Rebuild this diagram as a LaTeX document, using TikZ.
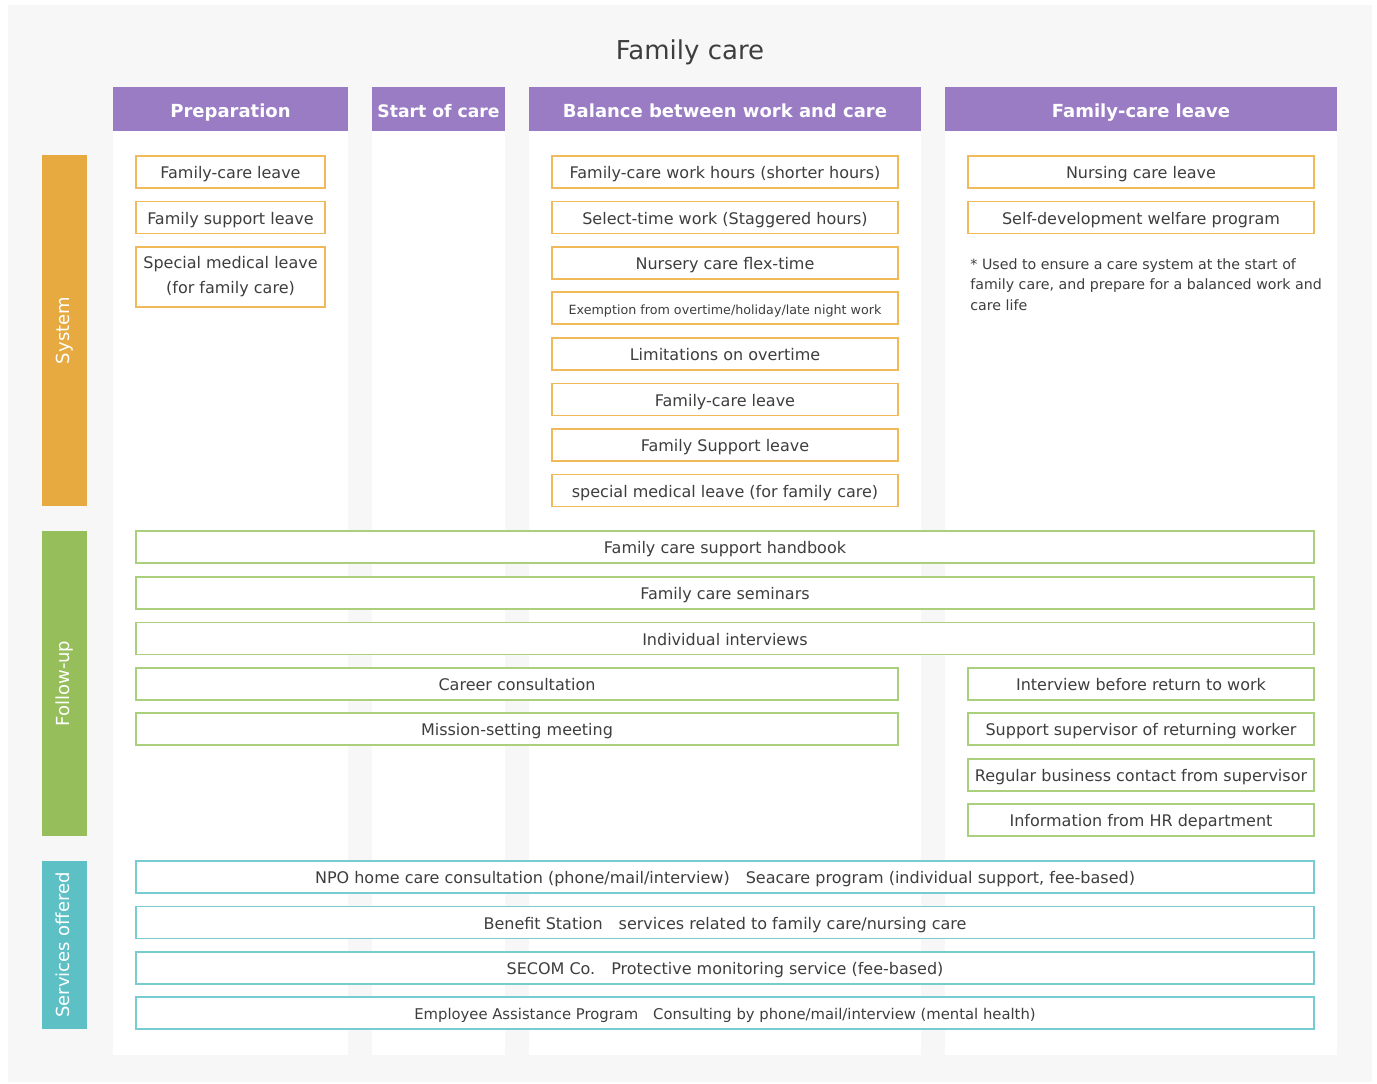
\documentclass[tikz,border=0pt]{standalone}
\usepackage{fontspec}
\setmainfont{DejaVu Sans}
\usetikzlibrary{positioning}
\definecolor{bg_gray}{RGB}{247,247,247}
\definecolor{head_purple}{RGB}{154,124,197}
\definecolor{sys_orange}{RGB}{231,170,64}
\definecolor{box_orange}{RGB}{240,185,90}
\definecolor{fol_green}{RGB}{150,191,91}
\definecolor{box_green}{RGB}{170,208,125}
\definecolor{srv_teal}{RGB}{92,192,196}
\definecolor{box_teal}{RGB}{118,204,208}
\definecolor{text_gray}{RGB}{62,62,62}

\begin{document}
\begin{tikzpicture}[x=0.5pt,y=-0.5pt]
    \tikzstyle{col}=[fill=white, inner sep=0pt, anchor=north, minimum height=484pt]
    \tikzstyle{head}=[fill=head_purple, text=white, inner sep=0pt, minimum height=22pt, text height=0.88em, text depth=0.02em, font=\bfseries\fontsize{9}{11}\selectfont]
    \tikzstyle{bar}=[rotate=90, text=white, inner sep=0pt, minimum height=22.5pt, text height=0.74em, text depth=0.2em, font=\fontsize{9}{11}\selectfont]
    \tikzstyle{box}=[draw, line width=0.6pt, fill=white, text=text_gray, inner sep=0pt, minimum height=16pt, text height=0.8em, text depth=0.14em, font=\fontsize{8}{12.5}\selectfont]
    \tikzstyle{sysbox}=[style=box, draw=box_orange]
    \tikzstyle{folbox}=[style=box, draw=box_green]
    \tikzstyle{srvbox}=[style=box, draw=box_teal]
    \tikzstyle{narrow}=[minimum width=94.5pt]
    \tikzstyle{half}=[minimum width=173pt]
    \tikzstyle{wide}=[minimum width=381pt]
    \tikzstyle{full}=[minimum width=589pt]

    \useasboundingbox (0,0) rectangle (1377,1083);
    \fill[white] (0,0) rectangle (1377,1083);
    \fill[bg_gray] (8,5) rectangle (1372,1082);

    \node[text=text_gray, font=\fontsize{13}{15}\selectfont] (title) at (690,52) {Family care};

    % columns
    \node[col, minimum width=117.5pt] (prepcol)  at (230.5,87) {};
    \node[col, minimum width=66.5pt]  (startcol) at (438.5,87) {};
    \node[col, minimum width=196pt]   (balcol)   at (725,87)   {};
    \node[col, minimum width=196pt]   (leavecol) at (1141,87)  {};
    \node[head, minimum width=117.5pt] (prep)  at (230.5,109) {Preparation};
    \node[head, minimum width=66.5pt, font=\bfseries\fontsize{8.6}{11}\selectfont] (start) at (438.5,109) {Start of care};
    \node[head, minimum width=196pt]   (bal)   at (725,109)   {Balance between work and care};
    \node[head, minimum width=196pt]   (leave) at (1141,109)  {Family-care leave};

    % rows
    \node[bar, fill=sys_orange, minimum width=175.5pt] (sys) at (64.5,330.5) {System};
    \node[bar, fill=fol_green,  minimum width=152.5pt] (fol) at (64.5,683.5) {Follow-up};
    \node[bar, fill=srv_teal,   minimum width=84pt]    (srv) at (64.5,945)   {Services offered};

    \node[sysbox, narrow] (p1) at (230.5,172)   {Family-care leave};
    \node[sysbox, narrow] (p2) at (230.5,217.5) {Family support leave};
    \node[sysbox, narrow, minimum height=30pt, align=center, text height=, text depth=] (p3) at (230.5,277) {Special medical leave\\(for family care)};

    \node[sysbox, half] (b1) at (725,172)   {Family-care work hours (shorter hours)};
    \node[sysbox, half] (b2) at (725,217.5) {Select-time work (Staggered hours)};
    \node[sysbox, half] (b3) at (725,263)   {Nursery care flex-time};
    \node[sysbox, half, font=\fontsize{6.35}{8}\selectfont] (b4) at (725,308) {Exemption from overtime/holiday/late night work};
    \node[sysbox, half] (b5) at (725,354)   {Limitations on overtime};
    \node[sysbox, half] (b6) at (725,399.5) {Family-care leave};
    \node[sysbox, half] (b7) at (725,445)   {Family Support leave};
    \node[sysbox, half] (b8) at (725,490.5) {special medical leave (for family care)};

    \node[sysbox, half] (l1) at (1141,172)   {Nursing care leave};
    \node[sysbox, half] (l2) at (1141,217.5) {Self-development welfare program};
    \node[anchor=north west, align=left, inner sep=0pt, text=text_gray, font=\fontsize{7.1}{10.25}\selectfont] (note) at (970,258)
      {* Used to ensure a care system at the start of\\family care, and prepare for a balanced work and\\care life};

    \node[folbox, full] (f1) at (725,547)   {Family care support handbook};
    \node[folbox, full] (f2) at (725,593)   {Family care seminars};
    \node[folbox, full] (f3) at (725,638.5) {Individual interviews};
    \node[folbox, wide] (f4) at (517,684)   {Career consultation};
    \node[folbox, wide] (f5) at (517,729)   {Mission-setting meeting};
    \node[folbox, half] (f6) at (1141,684)  {Interview before return to work};
    \node[folbox, half] (f7) at (1141,729)  {Support supervisor of returning worker};
    \node[folbox, half] (f8) at (1141,775)  {Regular business contact from supervisor};
    \node[folbox, half] (f9) at (1141,820)  {Information from HR department};

    \node[srvbox, full] (s1) at (725,877)   {NPO home care consultation (phone/mail/interview)\quad Seacare program (individual support, fee-based)};
    \node[srvbox, full] (s2) at (725,922.5) {Benefit Station\quad services related to family care/nursing care};
    \node[srvbox, full] (s3) at (725,968)   {SECOM Co.\quad Protective monitoring service (fee-based)};
    \node[srvbox, full, font=\fontsize{7.4}{9}\selectfont] (s4) at (725,1013) {Employee Assistance Program\quad Consulting by phone/mail/interview (mental health)};
\end{tikzpicture}
\end{document}
